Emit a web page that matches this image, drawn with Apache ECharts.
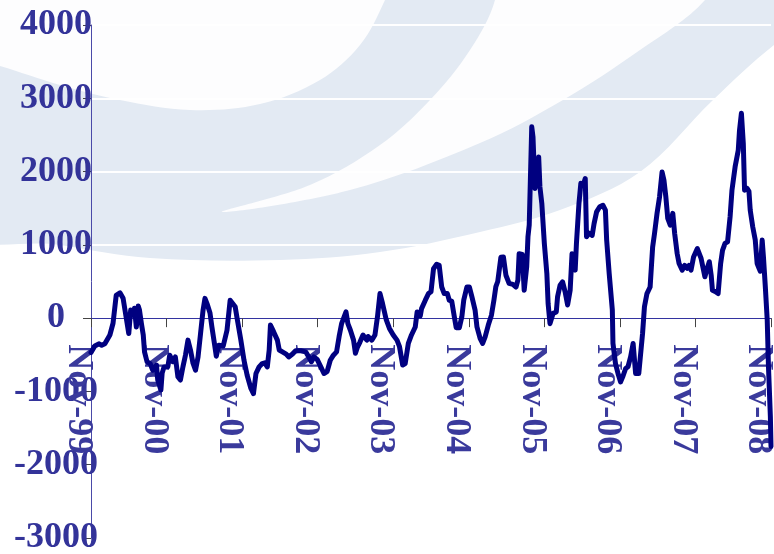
<!DOCTYPE html>
<html>
<head>
<meta charset="utf-8">
<title>Spread Nov-99 to Nov-08</title>
<script src="https://cdn.jsdelivr.net/npm/echarts@6/dist/echarts.min.js"></script>
<style>
  html, body { margin: 0; padding: 0; background: #fff; }
  #chart { width: 774px; height: 554px; }
</style>
</head>
<body>
<div id="chart"></div>
<script>
// x tick labels, one per year (every 12 months from Nov-99)
var tickLabels = ['Nov-99', 'Nov-00', 'Nov-01', 'Nov-02', 'Nov-03', 'Nov-04', 'Nov-05', 'Nov-06', 'Nov-07', 'Nov-08'];
var yTicks = { min: -3000, max: 4000, step: 1000 };

// [months since Nov-99, value]
var spreadPoints = [
  [0,-470],[0.6,-380],[1.3,-350],[1.7,-370],[2.2,-350],[2.5,-370],[3.0,-230],[3.5,-70],[4.0,310],[4.6,345],
  [5.1,270],[5.4,110],[6.0,-210],[6.3,110],[6.7,40],[6.9,135],[7.2,-120],[7.5,165],[7.7,110],[8.0,-70],
  [8.3,-230],[8.5,-460],[8.9,-595],[9.4,-620],[9.8,-710],[10.4,-640],[10.6,-845],[11.1,-980],[11.3,-750],[11.6,-665],
  [12.2,-665],[12.5,-505],[13.0,-595],[13.4,-530],[13.8,-800],[14.2,-845],[14.6,-665],[15.0,-505],[15.4,-300],[15.8,-435],
  [16.2,-615],[16.6,-710],[17.0,-530],[17.4,-210],[17.8,110],[18.1,270],[18.5,180],[18.9,70],[19.2,-120],[19.6,-345],
  [19.9,-520],[20.3,-370],[20.6,-390],[21.0,-380],[21.6,-165],[22.1,245],[22.4,270],[22.9,155],[23.2,0],[23.8,-300],
  [24.3,-575],[24.8,-780],[25.4,-960],[25.8,-1030],[26.2,-755],[26.7,-665],[27.2,-620],[27.6,-610],[28.0,-665],[28.3,-435],
  [28.5,-95],[29.0,-185],[29.3,-180],[29.6,-300],[29.9,-435],[30.4,-460],[31.0,-490],[31.4,-530],[32.0,-490],[32.5,-445],
  [33.3,-445],[34.1,-460],[34.6,-530],[35.0,-595],[35.4,-530],[35.9,-560],[36.5,-665],[37.0,-755],[37.5,-730],[38.0,-575],
  [38.5,-505],[39.0,-460],[39.4,-255],[39.8,-75],[40.1,-80],[40.5,85],[40.8,-75],[41.2,-165],[41.7,-300],[42.0,-480],
  [42.3,-400],[42.7,-330],[43.2,-230],[43.8,-300],[44.0,-250],[44.6,-300],[45.1,-230],[45.5,20],[45.9,335],[46.3,200],
  [46.9,-25],[47.4,-140],[48.0,-230],[48.6,-300],[49.0,-390],[49.5,-640],[49.9,-620],[50.4,-345],[50.9,-230],[51.5,-120],
  [51.8,85],[52.3,30],[52.5,130],[53.1,245],[53.6,335],[54.0,360],[54.4,675],[54.9,735],[55.3,720],[55.7,425],
  [56.1,335],[56.6,335],[56.9,245],[57.3,230],[57.7,20],[58.0,-130],[58.5,-130],[58.9,20],[59.2,245],[59.7,425],
  [60.1,425],[60.5,290],[61.0,110],[61.3,-120],[61.8,-275],[62.2,-345],[62.6,-255],[63.1,-95],[63.6,40],[63.9,60],
  [64.0,250],[64.3,430],[64.6,500],[65.1,830],[65.5,835],[65.9,585],[66.4,475],[67.0,460],[67.5,425],[67.8,520],
  [68.0,880],[68.5,870],[68.8,380],[69.2,700],[69.4,1110],[69.6,1270],[69.9,1290],[70.0,2610],[70.2,2470],[70.5,1770],
  [70.8,1900],[71.1,2200],[71.3,1790],[71.6,1565],[72.0,1020],[72.4,610],[72.6,200],[72.9,-75],[73.2,-60],[73.4,65],
  [73.9,85],[74.1,290],[74.5,450],[74.9,495],[75.3,360],[75.7,180],[76.1,380],[76.4,880],[76.7,870],[76.9,655],
  [77.1,1020],[77.5,1565],[77.8,1840],[78.2,1820],[78.5,1905],[78.7,1110],[79.1,1160],[79.6,1130],[79.9,1290],[80.3,1450],
  [80.8,1520],[81.3,1540],[81.7,1475],[81.9,1065],[82.3,610],[82.8,110],[82.9,-345],[83.3,-620],[83.7,-755],[84.1,-870],
  [84.5,-790],[84.9,-690],[85.3,-660],[85.7,-530],[86.1,-345],[86.5,-755],[87.0,-755],[87.6,-210],[87.9,155],[88.3,335],
  [88.8,425],[89.2,970],[89.5,1155],[89.9,1430],[90.3,1655],[90.7,1995],[91.0,1880],[91.3,1655],[91.6,1360],[92.0,1270],
  [92.4,1430],[92.7,1155],[93.1,880],[93.4,745],[93.9,655],[94.3,720],[94.7,680],[95.0,720],[95.3,655],[95.7,835],
  [96.3,950],[96.6,930],[96.9,815],[97.2,840],[97.5,565],[97.8,660],[98.2,770],[98.5,585],[98.7,380],[99.2,360],
  [99.6,335],[100.0,745],[100.3,925],[100.7,1020],[101.1,1040],[101.5,1380],[101.8,1745],[102.1,1760],[102.3,2065],[102.8,2290],
  [103.0,2565],[103.3,2795],[103.6,2385],[103.8,1745],[104.2,1770],[104.5,1730],[104.7,1475],[105.1,1245],[105.5,1065],[105.8,745],
  [106.1,680],[106.3,640],[106.6,1065],[106.8,835],[107.1,425],[107.4,-25],[107.6,-665],[107.9,-1345],[108,-1750]
];

var labelFont = "'Liberation Serif', 'Times New Roman', serif";
var gridTop = 25, gridBottom = 16, plotHeight = 554 - gridTop - gridBottom;
// x axis sits on the zero line: shift it up from the grid bottom by the 0..-3000 span
var zeroOffset = -plotHeight * (0 - yTicks.min) / (yTicks.max - yTicks.min);

var myChart = echarts.init(document.getElementById('chart'));

// faint logo watermark behind the plot
var watermark = [
  { type: 'polygon', shape: { smooth: 0.35, points: [[-60,-60],[840,-60],[840,0],[774,45],[713,100],[640,172],[560,210],[480,232],[380,252],[280,260],[150,258],[60,245],[-60,226]] },
    style: { fill: '#e3eaf3' } },
  { type: 'polygon', shape: { smooth: 0.35, points: [[-60,-40],[400,-40],[385,0],[360,45],[320,80],[260,104],[190,110],[120,100],[60,85],[0,66],[-60,50]] },
    style: { fill: '#fdfdfe' } },
  { type: 'polygon', shape: { smooth: 0.35, points: [[495,-40],[720,-40],[705,0],[640,50],[563,100],[480,143],[350,190],[222,212],[310,185],[380,145],[430,100],[470,50],[495,0]] },
    style: { fill: '#fdfdfe' } }
];
watermark.forEach(function (el) { el.z = -10; el.silent = true; });

myChart.setOption({
  animation: false,
  backgroundColor: '#ffffff',
  graphic: { elements: watermark },
  grid: { left: 91, right: 3, top: gridTop, bottom: gridBottom, containLabel: false, outerBoundsMode: 'none' },
  xAxis: {
    type: 'value',
    min: 0,
    max: 108,
    interval: 12,
    position: 'bottom',
    offset: zeroOffset,
    z: 1,
    axisLine: { onZero: false, lineStyle: { color: '#3333a0', width: 1 } },
    axisTick: { length: 9, lineStyle: { color: '#444444' } },
    splitLine: { show: false },
    axisLabel: {
      rotate: -90,
      margin: 26,
      verticalAlign: 'top',
      lineHeight: 25,
      color: '#3a3a9c',
      fontFamily: labelFont,
      fontWeight: 'bold',
      fontSize: 36,
      formatter: function (v) { return tickLabels[Math.round(v / 12)] || ''; }
    }
  },
  yAxis: {
    type: 'value',
    min: yTicks.min,
    max: yTicks.max,
    interval: yTicks.step,
    z: 1,
    axisLine: { show: true, onZero: false, lineStyle: { color: '#4a4aa8', width: 1 } },
    axisTick: { show: true, length: 8, lineStyle: { color: '#444444' } },
    splitLine: { show: true, lineStyle: { color: '#ffffff', width: 2 } },
    axisLabel: {
      align: 'center',
      margin: 35,
      color: '#333399',
      fontFamily: labelFont,
      fontWeight: 'bold',
      fontSize: 36,
      formatter: function (v) { return String(v); }
    }
  },
  series: [
    {
      name: 'spread',
      type: 'line',
      z: 10,
      data: spreadPoints,
      showSymbol: false,
      symbol: 'none',
      clip: false,
      lineStyle: { color: '#000080', width: 5, join: 'round', cap: 'round' }
    }
  ]
});
</script>
</body>
</html>
